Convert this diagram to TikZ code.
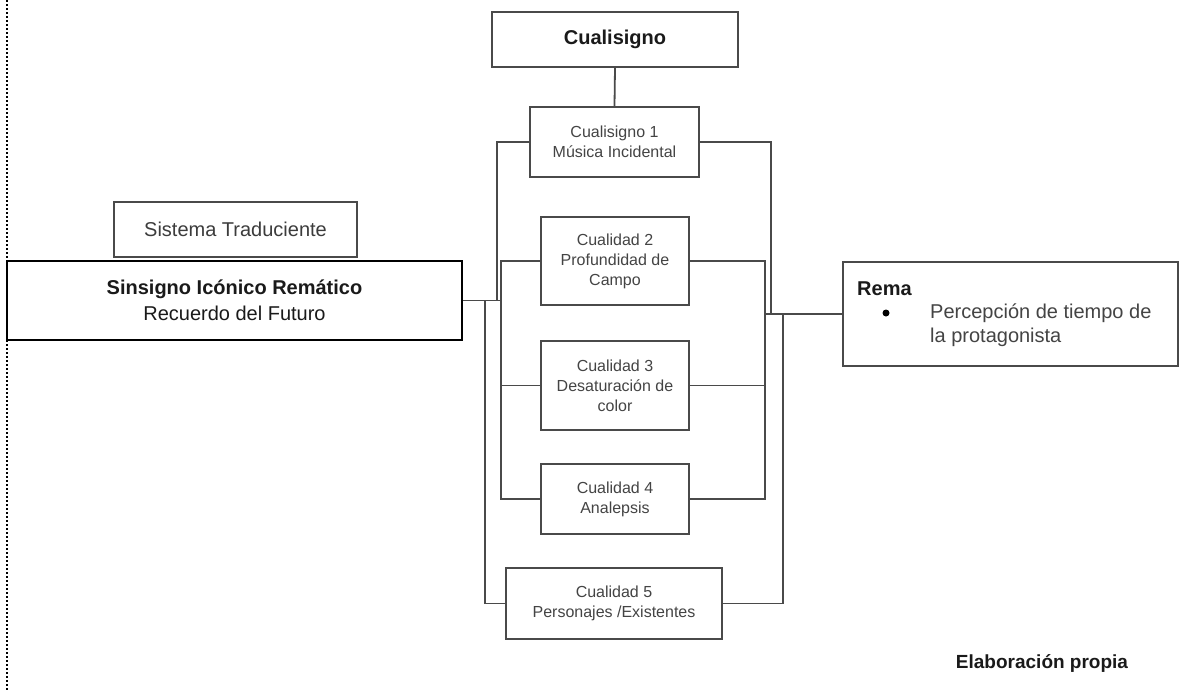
\documentclass[tikz,border=0pt]{standalone}
\usepackage{fontspec}
\setmainfont{Liberation Sans}
\usetikzlibrary{calc}
\definecolor{edge}{HTML}{4A4A4A}
\definecolor{ink}{HTML}{444444}
\definecolor{dark}{HTML}{1A1A1A}
\begin{document}
\begin{tikzpicture}[x=1pt,y=-1pt,
  box/.style={draw=edge,line width=1.8pt,fill=white,inner sep=2pt,align=center,text=ink},
  small/.style={font=\fontsize{16}{20}\selectfont},
  big/.style={font=\fontsize{20}{26}\selectfont},
  wire/.style={draw=edge,line width=1.8pt},
  lbl/.style={inner sep=0pt,anchor=west,text=ink,font=\fontsize{20}{24}\selectfont}]

\useasboundingbox (0,0) rectangle (1179,691);

% dotted margin rule
\draw[black,line width=1.6pt,dash pattern=on 2pt off 2pt] (7,0) -- (7,691);

% central column
\node[box,big,text=dark,minimum width=246,minimum height=55] (cs) at (615,39.5) {\textbf{Cualisigno}};
\node[box,small,minimum width=169,minimum height=70] (c1) at (614.5,142) {Cualisigno 1\\Música Incidental};
\node[box,small,minimum width=148,minimum height=88] (c2) at (615,261) {Cualidad 2\\Profundidad de\\Campo};
\node[box,small,minimum width=148,minimum height=89] (c3) at (615,385.5) {Cualidad 3\\Desaturación de\\color};
\node[box,small,minimum width=148,minimum height=70] (c4) at (615,499) {Cualidad 4\\Analepsis};
\node[box,small,minimum width=216,minimum height=71] (c5) at (614,603.5) {Cualidad 5\\Personajes /Existentes};

% left side
\node[box,big,text=dark!85,minimum width=243,minimum height=55] (sis) at (235.5,229.5) {Sistema Traduciente};
\node[box,big,draw=black,line width=2.6pt,text=dark,minimum width=455,minimum height=79] (sin) at (234.5,300.5)
  {\textbf{Sinsigno Icónico Remático}\\Recuerdo del Futuro};

% right side: box with a bulleted entry
\node[box,minimum width=335,minimum height=104] (rema) at (1010.5,314) {};
\node[lbl,text=dark] (remat) at (857,289) {\textbf{Rema}};
\fill[black] (886,313) circle[radius=3.5pt];
\node[lbl] (rl1) at (930,313) {Percepción de tiempo de};
\node[lbl] (rl2) at (930,337) {la protagonista};

% credit
\node[inner sep=0pt,text=dark,font=\fontsize{19}{23}\selectfont\bfseries] (cred) at (1042,663) {Elaboración propia};

% bus lines
\coordinate (la) at (497,0);
\coordinate (lb) at (501,0);
\coordinate (lc) at (485,0);
\coordinate (ra) at (771,0);
\coordinate (rb) at (765,0);
\coordinate (rc) at (783,0);

\draw[wire] (cs.south) -- (c1.north);

\draw[wire] (sin.east) -- (sin.east -| la) |- (c1.west);
\draw[wire] (sin.east) -- (sin.east -| lb) |- (c2.west);
\draw[wire] (sin.east) -- (sin.east -| lb) |- (c3.west);
\draw[wire] (sin.east) -- (sin.east -| lb) |- (c4.west);
\draw[wire] (sin.east) -- (sin.east -| lc) |- (c5.west);

\draw[wire] (c1.east) -| (rema.west -| ra) -- (rema.west);
\draw[wire] (c2.east) -| (rema.west -| rb) -- (rema.west);
\draw[wire] (c3.east) -| (rema.west -| rb) -- (rema.west);
\draw[wire] (c4.east) -| (rema.west -| rb) -- (rema.west);
\draw[wire] (c5.east) -| (rema.west -| rc) -- (rema.west);

\end{tikzpicture}
\end{document}
